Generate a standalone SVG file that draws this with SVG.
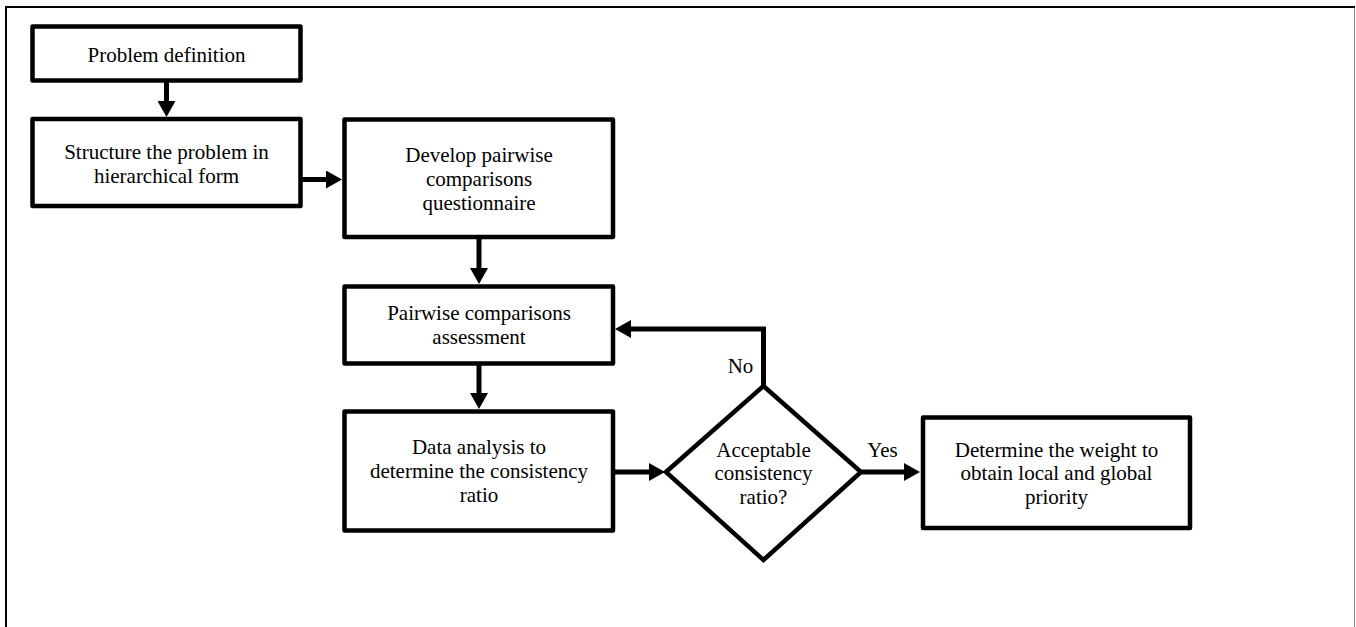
<svg xmlns="http://www.w3.org/2000/svg" width="1356" height="627" viewBox="0 0 1356 627">
<style>
.box{fill:#fff;stroke:#000;stroke-width:4.5;stroke-linejoin:round}
.dia{fill:#fff;stroke:#000;stroke-width:4.5;stroke-linejoin:miter}
.con{fill:none;stroke:#000;stroke-width:5}
.t{font-family:'Liberation Serif','DejaVu Serif',serif;font-size:21px;fill:#000;text-anchor:middle}
</style>
<defs>
<marker id="ah" markerUnits="userSpaceOnUse" viewBox="0 0 16 18" markerWidth="16" markerHeight="18" refX="4" refY="9" orient="auto">
<path d="M0,0 L16,9 L0,18 z" fill="#000"/>
</marker>
</defs>
<rect x="0" y="0" width="1356" height="627" fill="#fff"/>
<g id="frame">
<line x1="5" y1="7" x2="1355" y2="7" stroke="#000" stroke-width="2"/>
<line x1="6" y1="6" x2="6" y2="627" stroke="#000" stroke-width="2"/>
<line x1="1354.5" y1="8" x2="1354.5" y2="627" stroke="#888" stroke-width="1"/>
</g>
<g id="connectors">
<line class="con" x1="166.5" y1="80.5" x2="166.5" y2="105" marker-end="url(#ah)"/>
<line class="con" x1="300.5" y1="179.5" x2="330" y2="179.5" marker-end="url(#ah)"/>
<line class="con" x1="479" y1="237" x2="479" y2="272" marker-end="url(#ah)"/>
<line class="con" x1="479" y1="363.5" x2="479" y2="397" marker-end="url(#ah)"/>
<line class="con" x1="613" y1="472" x2="653" y2="472" marker-end="url(#ah)"/>
<path class="con" d="M763.5,386 V329 H627" marker-end="url(#ah)"/>
<line class="con" x1="861" y1="472" x2="908" y2="472" marker-end="url(#ah)"/>
<text class="t" x="740.5" y="373" font-family="Liberation Serif">No</text>
<text class="t" x="882.5" y="457" font-family="Liberation Serif">Yes</text>
</g>
<g id="n1">
<rect class="box" x="32.5" y="26.5" width="268" height="54"/>
<text class="t" x="166.5" y="62" font-family="Liberation Serif">Problem definition</text>
</g>
<g id="n2">
<rect class="box" x="32.5" y="119" width="268" height="87"/>
<text class="t" x="166.5" y="159" font-family="Liberation Serif">Structure the problem in</text>
<text class="t" x="166.5" y="183" font-family="Liberation Serif">hierarchical form</text>
</g>
<g id="n3">
<rect class="box" x="344.5" y="119.5" width="268.5" height="117.5"/>
<text class="t" x="479" y="162" font-family="Liberation Serif">Develop pairwise</text>
<text class="t" x="479" y="186" font-family="Liberation Serif">comparisons</text>
<text class="t" x="479" y="210" font-family="Liberation Serif">questionnaire</text>
</g>
<g id="n4">
<rect class="box" x="344.5" y="286.5" width="268.5" height="77"/>
<text class="t" x="479" y="320" font-family="Liberation Serif">Pairwise comparisons</text>
<text class="t" x="479" y="344" font-family="Liberation Serif">assessment</text>
</g>
<g id="n5">
<rect class="box" x="344.5" y="411.5" width="268.5" height="119"/>
<text class="t" x="479" y="454" font-family="Liberation Serif">Data analysis to</text>
<text class="t" x="479" y="478" font-family="Liberation Serif">determine the consistency</text>
<text class="t" x="479" y="502" font-family="Liberation Serif">ratio</text>
</g>
<g id="n6">
<polygon class="dia" points="666,472 763.5,386 861,472 763.5,560"/>
<text class="t" x="763.5" y="457" font-family="Liberation Serif">Acceptable</text>
<text class="t" x="763.5" y="480" font-family="Liberation Serif">consistency</text>
<text class="t" x="763.5" y="504" font-family="Liberation Serif">ratio?</text>
</g>
<g id="n7">
<rect class="box" x="923" y="417.5" width="267" height="110.5"/>
<text class="t" x="1056.5" y="457" font-family="Liberation Serif">Determine the weight to</text>
<text class="t" x="1056.5" y="480" font-family="Liberation Serif">obtain local and global</text>
<text class="t" x="1056.5" y="504" font-family="Liberation Serif">priority</text>
</g>
</svg>
